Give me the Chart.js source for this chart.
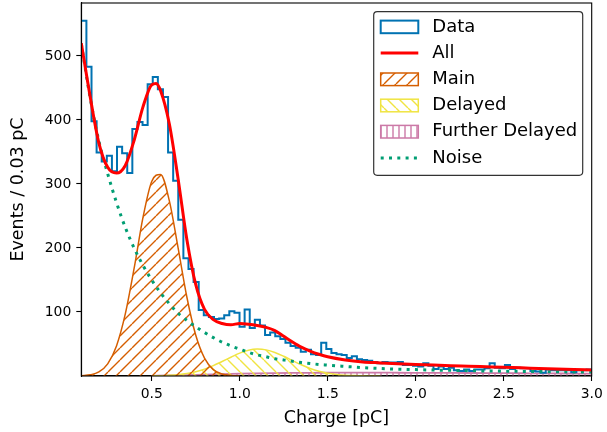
<!DOCTYPE html>
<html>
<head>
<meta charset="utf-8">
<script src="https://cdn.jsdelivr.net/npm/chart.js@4.4.1/dist/chart.umd.min.js"></script>
<style>
  html, body { margin: 0; padding: 0; background: #fff; }
  canvas { display: block; }
</style>
</head>
<body>
<canvas id="c" width="607" height="432"></canvas>
<script>
// ---------------- data ----------------
const histLow = 0.1;
const histHigh = 3.0;
const dataCounts = [
  555, 483, 398, 349, 335, 344, 320, 358, 348, 317,
  386, 397, 392, 456, 467, 448, 436, 349, 305, 244,
  184, 167, 147, 103, 95, 92, 89, 90, 95, 101,
  99, 77, 104, 75, 88, 79, 64, 68, 62, 58,
  52, 47, 44, 38, 41, 34, 33, 52, 42, 36,
  34, 33, 28, 31, 26, 25, 24, 22, 20, 22,
  21, 21, 22, 17, 17, 16, 15, 20, 16, 11,
  15, 11, 13, 9, 8, 10, 8, 10, 10, 12,
  20, 13, 12, 17, 11, 13, 12, 12, 8, 7,
  5, 10, 9, 9, 9, 9, 6, 9, 9, 10
];

const allX = [0.10, 0.15, 0.20, 0.25, 0.30, 0.35, 0.40, 0.45, 0.50, 0.525, 0.55, 0.60, 0.65, 0.70, 0.75,
  0.80, 0.85, 0.90, 0.95, 1.00, 1.05, 1.10, 1.15, 1.20, 1.25, 1.30, 1.35, 1.40, 1.45, 1.50,
  1.6, 1.7, 1.8, 1.9, 2.0, 2.1, 2.2, 2.3, 2.4, 2.5, 2.6, 2.7, 2.8, 2.9, 3.0];
const allY = [520, 437, 364, 326, 317, 329, 368, 420, 455, 457, 446, 394, 308, 213, 143,
  104, 88, 82, 80, 82, 81, 79, 76, 71, 62, 53, 45, 39, 34, 30,
  25, 22, 20.5, 19, 18, 17, 16, 15.3, 14.5, 13.7, 12.8, 11.8, 10.9, 10.1, 9.4];

const mainX = [0.10, 0.15, 0.20, 0.25, 0.30, 0.35, 0.40, 0.45, 0.50, 0.55, 0.60, 0.65, 0.70,
  0.75, 0.80, 0.85, 0.90, 0.95, 1.00];
const mainY = [0.4, 1.8, 6.4, 19, 47, 97, 168, 247, 304, 315, 274, 200, 123,
  64, 28, 10, 3.1, 0.8, 0.2];

const delayedX = [0.50, 0.55, 0.60, 0.65, 0.70, 0.75, 0.80, 0.85, 0.90, 0.95, 1.00, 1.05, 1.10,
  1.15, 1.20, 1.25, 1.30, 1.35, 1.40, 1.45, 1.50, 1.55, 1.60, 1.65, 1.70, 1.75, 1.80];
const delayedY = [0.2, 0.5, 1.0, 2.0, 3.8, 6.7, 10.8, 16.3, 22.7, 29.3, 35.8, 40.3, 42,
  40.8, 36.8, 30.9, 24.1, 17.5, 11.8, 7.4, 4.3, 2.4, 1.2, 0.6, 0.2, 0.1, 0];

const furtherX = [0.5, 0.6, 0.7, 0.8, 0.9, 1.0, 1.1, 1.2, 1.3, 1.4, 1.5, 1.6, 1.7, 1.8, 1.9,
  2.0, 2.1, 2.2, 2.3, 2.4, 2.5, 2.6, 2.7, 2.8, 2.9, 3.0];
const furtherY = [0.3, 0.8, 1.5, 2.3, 3.0, 3.6, 4.1, 4.5, 4.8, 5.0, 5.1, 5.2, 5.2, 5.2, 5.1,
  5.0, 4.9, 4.8, 4.7, 4.6, 4.4, 4.3, 4.1, 4.0, 3.8, 3.6];

const noiseX = [0.10, 0.15, 0.20, 0.25, 0.30, 0.35, 0.40, 0.45, 0.50, 0.55, 0.60, 0.65, 0.70, 0.75,
  0.80, 0.85, 0.90, 0.95, 1.00, 1.05, 1.10, 1.15, 1.20, 1.25, 1.30, 1.35, 1.40, 1.45, 1.50,
  1.6, 1.7, 1.8, 1.9, 2.0, 2.1, 2.2, 2.3, 2.4, 2.5, 2.6, 2.7, 2.8, 2.9, 3.0];
const noiseY = [519, 435, 367, 316, 271, 232, 200, 173, 150, 130, 113, 98, 87, 77,
  68, 60, 53, 47, 42, 37, 33, 30, 27, 25, 23, 21, 19.5, 18, 17,
  15, 13, 11.7, 10.7, 10, 9.3, 8.8, 8.3, 7.9, 7.5, 7.2, 6.9, 6.6, 6.3, 6.1];

const xTicks = [0.5, 1.0, 1.5, 2.0, 2.5, 3.0];
const yTicks = [100, 200, 300, 400, 500];
const seriesLabels = ['Data', 'All', 'Main', 'Delayed', 'Further Delayed', 'Noise'];

// ---------------- styling ----------------
const FONT = "'DejaVu Sans', 'Liberation Sans', sans-serif";
const TICK_FS = 13.9;
const LABEL_FS = 17.5;
const LEGEND_FS = 18;
const C_DATA = '#0072B2', C_ALL = '#FF0000', C_MAIN = '#D55E00',
      C_DEL = '#F0E442', C_FUR = '#CC79A7', C_NOISE = '#009E73';

const canvas = document.getElementById('c');
const ctx = canvas.getContext('2d');

function makeHatch(color, kind, size, lw) {
  const t = document.createElement('canvas');
  t.width = size; t.height = size;
  const g = t.getContext('2d');
  g.strokeStyle = color; g.lineWidth = lw;
  g.beginPath();
  if (kind === '/') {
    for (let i = -1; i <= 1; i++) { g.moveTo(i * size, size); g.lineTo(i * size + size, 0); }
  } else if (kind === '\\') {
    for (let i = -1; i <= 1; i++) { g.moveTo(i * size, 0); g.lineTo(i * size + size, size); }
  } else {
    g.moveTo(size / 2, 0); g.lineTo(size / 2, size);
  }
  g.stroke();
  return ctx.createPattern(t, 'repeat');
}
const hatchMain = makeHatch(C_MAIN, '/', 12, 1.4);
const hatchDel = makeHatch(C_DEL, '\\', 12, 1.4);
const hatchFur = makeHatch(C_FUR, '|', 6, 1.4);

const pts = (xs, ys) => xs.map((x, i) => ({ x: x, y: ys[i] }));

const binW = (histHigh - histLow) / dataCounts.length;
const histPts = dataCounts.map((v, k) => ({ x: histLow + k * binW, y: v }));
histPts.push({ x: histHigh, y: dataCounts[dataCounts.length - 1] });

const curveCommon = { pointRadius: 0, cubicInterpolationMode: 'monotone' };

const datasets = [
  { label: seriesLabels[0], data: histPts, stepped: 'before', borderColor: C_DATA, borderWidth: 2,
    fill: false, pointRadius: 0, order: 2, legendKind: 'box' },
  Object.assign({ label: seriesLabels[1], data: pts(allX, allY), borderColor: C_ALL, borderWidth: 3,
    fill: false, order: 0, legendKind: 'line' }, curveCommon),
  Object.assign({ label: seriesLabels[2], data: pts(mainX, mainY), borderColor: C_MAIN, borderWidth: 1.5,
    backgroundColor: hatchMain, fill: 'origin', order: 3, legendKind: 'hatch' }, curveCommon),
  Object.assign({ label: seriesLabels[3], data: pts(delayedX, delayedY), borderColor: C_DEL, borderWidth: 1.5,
    backgroundColor: hatchDel, fill: 'origin', order: 4, legendKind: 'hatch' }, curveCommon),
  Object.assign({ label: seriesLabels[4], data: pts(furtherX, furtherY), borderColor: C_FUR, borderWidth: 1.8,
    backgroundColor: hatchFur, fill: 'origin', order: 5, legendKind: 'hatch' }, curveCommon),
  Object.assign({ label: seriesLabels[5], data: pts(noiseX, noiseY), borderColor: C_NOISE, borderWidth: 3,
    borderDash: [3, 5.3], fill: false, order: 1, legendKind: 'dots' }, curveCommon)
];

// frame (spines drawn above data like matplotlib)
const framePlugin = {
  id: 'frame',
  afterDatasetsDraw(chart) {
    const a = chart.chartArea, g = chart.ctx;
    g.save();
    g.strokeStyle = '#000'; g.lineWidth = 1.1;
    g.strokeRect(a.left, a.top, a.right - a.left, a.bottom - a.top);
    g.restore();
  }
};

// matplotlib-like legend box in the upper right of the axes
const legendPlugin = {
  id: 'mplLegend',
  afterDraw(chart) {
    const a = chart.chartArea, g = chart.ctx;
    const boxW = 209, boxH = 163.6;
    const bx = a.right - 9 - boxW, by = a.top + 8.7;
    g.save();
    g.beginPath();
    g.roundRect(bx, by, boxW, boxH, 3.5);
    g.fillStyle = 'rgba(255,255,255,0.85)';
    g.fill();
    g.strokeStyle = '#333'; g.lineWidth = 1.2;
    g.stroke();
    const hx = bx + 7, hw = 37.6, hh = 12.6, rowH = 26.2;
    const tx = bx + 58.6;
    chart.data.datasets.forEach((ds, i) => {
      const cy = by + 15.2 + i * rowH;
      g.save();
      if (ds.legendKind === 'box') {
        g.fillStyle = '#fff';
        g.fillRect(hx, cy - hh / 2, hw, hh);
        g.strokeStyle = ds.borderColor; g.lineWidth = 2;
        g.strokeRect(hx, cy - hh / 2, hw, hh);
      } else if (ds.legendKind === 'hatch') {
        g.fillStyle = ds.backgroundColor;
        g.fillRect(hx, cy - hh / 2, hw, hh);
        g.strokeStyle = ds.borderColor; g.lineWidth = 1.5;
        g.strokeRect(hx, cy - hh / 2, hw, hh);
      } else {
        g.strokeStyle = ds.borderColor; g.lineWidth = ds.borderWidth;
        if (ds.borderDash) g.setLineDash(ds.borderDash);
        g.beginPath(); g.moveTo(hx, cy); g.lineTo(hx + hw, cy); g.stroke();
      }
      g.restore();
      g.fillStyle = '#000';
      g.font = LEGEND_FS + 'px ' + FONT;
      g.textBaseline = 'middle';
      g.textAlign = 'left';
      g.fillText(ds.label, tx, cy);
    });
    g.restore();
  }
};

const tickFont = { family: FONT, size: TICK_FS };
const labelFont = { family: FONT, size: LABEL_FS };

new Chart(ctx, {
  type: 'line',
  data: { datasets: datasets },
  options: {
    responsive: false,
    animation: false,
    events: [],
    layout: { padding: { left: 0, right: 15.3, top: 3, bottom: 0 } },
    plugins: { legend: { display: false }, tooltip: { enabled: false } },
    scales: {
      x: {
        type: 'linear', min: histLow, max: histHigh,
        afterBuildTicks: (s) => { s.ticks = xTicks.map(v => ({ value: v })); },
        afterFit: (s) => { s.height = 56; s.paddingLeft = 0; s.paddingRight = 0; },
        ticks: { callback: (v) => Number(v).toFixed(1), font: tickFont, color: '#000', padding: 5,
                 maxRotation: 0, autoSkip: false },
        grid: { drawOnChartArea: false, drawTicks: true, tickLength: 5, tickColor: '#000', tickWidth: 1.1 },
        border: { display: true, color: '#000', width: 1.1 },
        title: { display: true, text: 'Charge [pC]', font: labelFont, color: '#000',
                 padding: { top: 0, bottom: 3.5 } }
      },
      y: {
        type: 'linear', min: 0, max: 582.75,
        afterBuildTicks: (s) => { s.ticks = yTicks.map(v => ({ value: v })); },
        afterFit: (s) => { s.width = 81.3; s.paddingTop = 0; s.paddingBottom = 0; },
        ticks: { font: tickFont, color: '#000', padding: 5, autoSkip: false },
        grid: { drawOnChartArea: false, drawTicks: true, tickLength: 5, tickColor: '#000', tickWidth: 1.1 },
        border: { display: true, color: '#000', width: 1.1 },
        title: { display: true, text: 'Events / 0.03 pC', font: labelFont, color: '#000',
                 padding: { top: 8, bottom: 0 } }
      }
    }
  },
  plugins: [framePlugin, legendPlugin]
});
</script>
</body>
</html>
